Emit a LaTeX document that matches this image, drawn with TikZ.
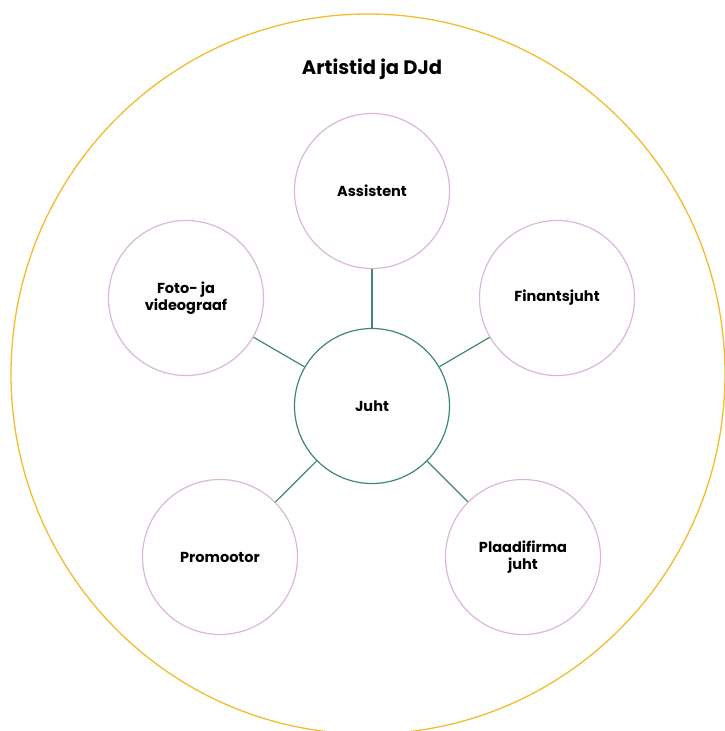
\documentclass[tikz,border=0pt]{standalone}
\usepackage{fontspec}
\setmainfont{Poppins}
\usetikzlibrary{positioning}
\definecolor{ringyellow}{HTML}{F4BC2C}
\definecolor{rolepink}{HTML}{D9B8D9}
\definecolor{leadgreen}{HTML}{3E8A66}

\begin{document}
\begin{tikzpicture}[x=1pt, y=-1pt,
    role/.style={circle, draw=rolepink, line width=1.2pt, minimum size=155pt,
        inner sep=0pt, align=center, font=\bfseries\fontsize{14.5}{17}\selectfont},
    lead/.style={role, draw=leadgreen},
    link/.style={draw=leadgreen, line width=1.2pt}]
    \useasboundingbox (0,0) rectangle (724,731);

    % outer ring and title
    \draw[ringyellow, line width=1.3pt] (368,374) ellipse [x radius=357, y radius=360];
    \node[font=\bfseries\fontsize{19.5}{22}\selectfont] (title) at (372,69) {Artistid ja DJd};

    % manager in the middle, roles around
    \node[lead] (juht) at (372,406) {Juht};
    \node[role] (assistent) at (372,191) {Assistent};
    \node[role] (finants) at (557,298) {Finantsjuht};
    \node[role] (plaadi) at (523,557) {Plaadifirma\\juht};
    \node[role] (promo) at (220,557) {Promootor};
    \node[role] (foto) at (186,298) {Foto- ja\\videograaf};

    % links
    \foreach \r in {assistent, finants, plaadi, promo, foto}
        \draw[link] (juht) -- (\r);
\end{tikzpicture}
\end{document}
